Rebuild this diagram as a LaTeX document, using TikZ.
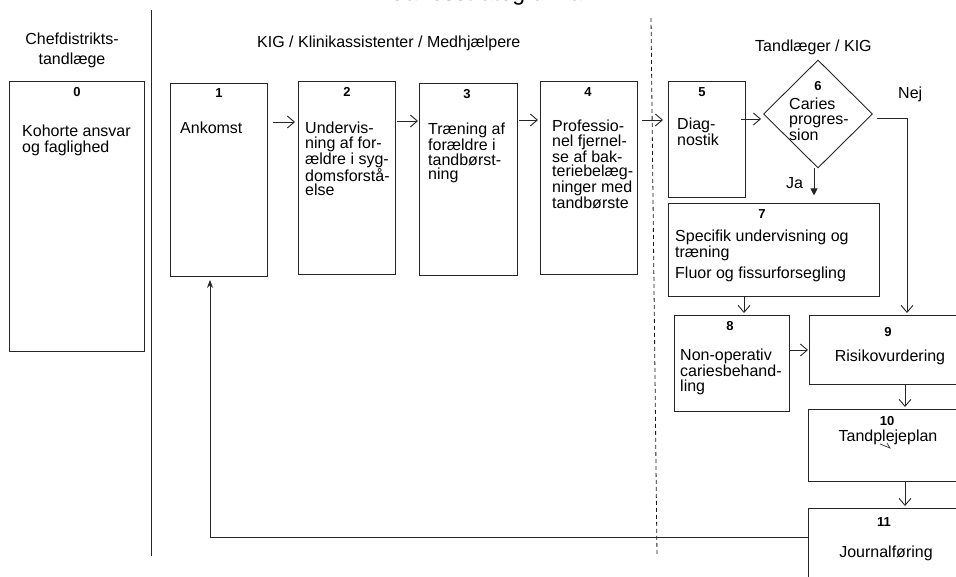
\documentclass[tikz,border=0pt]{standalone}
\usepackage{fontspec}
\setmainfont{Liberation Sans}
\usetikzlibrary{arrows.meta,shapes.geometric}

\tikzset{
  stage/.style={draw=black!85, line width=0.9pt, inner sep=0pt, anchor=north west},
  num/.style={font=\bfseries\fontsize{13}{14}\selectfont, inner sep=0pt, anchor=center},
  body/.style={font=\fontsize{16}{14.5}\selectfont, align=left, inner sep=0pt, anchor=north west},
  bodyc/.style={font=\fontsize{16}{14.5}\selectfont, align=center, inner sep=0pt, anchor=north},
  head/.style={font=\fontsize{16}{19.5}\selectfont, inner sep=0pt},
  link/.style={draw=black!85, line width=0.9pt, -{Straight Barb[length=7pt,width=12pt]}},
  solidtip/.style={draw=black!85, line width=0.9pt, -{Triangle[length=7pt,width=7pt]}},
  plain/.style={draw=black!85, line width=0.9pt}
}

\begin{document}
\begin{tikzpicture}[x=1pt,y=-1pt]
\useasboundingbox (0,0) rectangle (956,577);
\clip (0,0) rectangle (956,577);

% title (runs off the top edge)
\node[font=\fontsize{23}{26}\selectfont, anchor=base, inner sep=0pt] (title) at (492,0.5) {Cariesstrategi / Plan};

% lane separators
\draw[plain] (151,10) -- (151,556);
\draw[draw=black!90, line width=0.8pt, dash pattern=on 4pt off 3pt] (651,18) -- (657,556);

% lane headings
\node[head, align=center, anchor=north] (hchef) at (72,33) {Chefdistrikts-\\tandlæge};
\node[head, anchor=north west] (hkig) at (257,36) {KIG / Klinikassistenter / Medhjælpere};
\node[head, anchor=north west] (htand) at (755,40) {Tandlæger / KIG};

% 0
\node[stage, minimum width=135pt, minimum height=270pt] (b0) at (9,81) {};
\node[num] (n0) at (77,92) {0};
\node[body, font=\fontsize{16}{15.5}\selectfont] (t0) at (22,125) {Kohorte ansvar\\og faglighed};

% 1
\node[stage, minimum width=97pt, minimum height=193pt] (b1) at (170,83) {};
\node[num] (n1) at (219,93) {1};
\node[body] (t1) at (180,122) {Ankomst};

% 2
\node[stage, minimum width=97pt, minimum height=193pt] (b2) at (298,81) {};
\node[num] (n2) at (347,92) {2};
\node[body] (t2) at (305,122) {Undervis-\\ning af for-\\ældre i syg-\\domsforstå-\\else};

% 3
\node[stage, minimum width=98pt, minimum height=192pt] (b3) at (419,83) {};
\node[num] (n3) at (467,94) {3};
\node[body] (t3) at (428,123) {Træning af\\forældre i\\tandbørst-\\ning};

% 4
\node[stage, minimum width=97pt, minimum height=193pt] (b4) at (540,81) {};
\node[num] (n4) at (588,92) {4};
\node[body] (t4) at (552,120) {Professio-\\nel fjernel-\\se af bak-\\teriebelæg-\\ninger med\\tandbørste};

% 5
\node[stage, minimum width=77pt, minimum height=116pt] (b5) at (668,81) {};
\node[num] (n5) at (702,92) {5};
\node[body] (t5) at (677,118) {Diag-\\nostik};

% 6 decision
\node[diamond, draw=black!85, line width=0.9pt, inner sep=0pt, minimum width=109pt, minimum height=108pt] (d6) at (818,114) {};
\node[num] (n6) at (818,86) {6};
\node[body] (t6) at (789,98) {Caries\\progres-\\sion};
\node[head, anchor=north west] (lnej) at (898,87) {Nej};
\node[head, anchor=north west] (lja) at (786,177) {Ja};

% 7
\node[stage, minimum width=211pt, minimum height=93pt] (b7) at (668,203) {};
\node[num] (n7) at (762,214) {7};
\node[body] (t7) at (675,230) {Specifik undervisning og\\træning\\[4.5pt]Fluor og fissurforsegling};

% 8
\node[stage, minimum width=115pt, minimum height=96pt] (b8) at (674,315) {};
\node[num] (n8) at (730,326) {8};
\node[body] (t8) at (680,349) {Non-operativ\\cariesbehand-\\ling};

% 9
\node[stage, minimum width=191pt, minimum height=69pt] (b9) at (809,315) {};
\node[num] (n9) at (888,332) {9};
\node[bodyc] (t9) at (890,350) {Risikovurdering};

% 10
\node[stage, minimum width=192pt, minimum height=72pt] (b10) at (808,409) {};
\node[num] (n10) at (887,421) {10};
\node[bodyc] (t10) at (888,430) {Tandplejeplan};
\draw[draw=black!80, line width=0.7pt] (880,444) -- (890,448) -- (887,443);

% 11
\node[stage, minimum width=192pt, minimum height=100pt] (b11) at (808,508) {};
\node[num] (n11) at (884,522) {11};
\node[bodyc] (t11) at (886,546) {Journalføring};

% flow
\draw[link] ([shift={(5,39)}]b1.north east) -- ([shift={(-3,41)}]b2.north west);
\draw[link] ([shift={(1,40)}]b2.north east) -- ([shift={(-1,38)}]b3.north west);
\draw[link] ([shift={(1,37)}]b3.north east) -- ([shift={(-2,39)}]b4.north west);
\draw[link] ([shift={(4,39)}]b4.north east) -- ([shift={(-5,39)}]b5.north west);
\draw[link] ([shift={(-5,38)}]b5.north east) -- ([shift={(-2,5)}]d6.west);
\draw[solidtip] ([shift={(-4,0)}]d6.south) -- ([shift={(-4,27)}]d6.south);
\draw[link] ([shift={(4,4)}]d6.east) -| ([shift={(98,-2)}]b9.north west);
\draw[link] ([shift={(76,0)}]b7.south west) -- ([shift={(70,-2)}]b8.north west);
\draw[link] ([shift={(0,35)}]b8.north east) -- ([shift={(-1,35)}]b9.north west);
\draw[link] ([shift={(96,0)}]b9.south west) -- ([shift={(97,-2)}]b10.north west);
\draw[link] ([shift={(97,0)}]b10.south west) -- ([shift={(97,-2)}]b11.north west);
\draw[draw=black!85, line width=0.9pt, -{Stealth[length=8pt,width=6pt]}] ([shift={(0,29)}]b11.north west) -| ([shift={(40,3)}]b1.south west);
\end{tikzpicture}
\end{document}
